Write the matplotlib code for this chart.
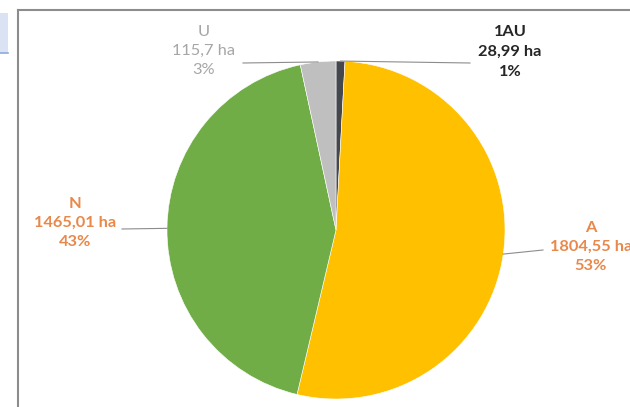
import numpy as np
import matplotlib.pyplot as plt
from matplotlib.patches import Rectangle

# zones du PLU (ha)
zones = ['1AU', 'A', 'N', 'U']
surfaces = [28.99, 1804.55, 1465.01, 115.7]
pourcents = ['1%', '53%', '43%', '3%']
couleurs = ['#45474f', '#ffc000', '#70ad47', '#bfbfbf']
col_texte = ['#262626', '#e8884a', '#e8884a', '#a6a6a6']
gras = ['bold', 'bold', 'bold', 'normal']

# position des etiquettes (pixels) et bout des lignes de rappel
pos_lab = [(510, 52), (591, 247), (75, 223), (204, 51)]
bout_ligne = [(470, 63), (543, 250), (122, 229), (243, 63)]

plt.rcParams['font.family'] = ['Lato', 'DejaVu Sans']

fig = plt.figure(figsize=(6.3, 4.07), dpi=100)
ax = fig.add_axes([0, 0, 1, 1])

cx, cy, r = 336, 230, 169
wedges, _ = ax.pie(surfaces, colors=couleurs, startangle=-90, counterclock=True,
                   center=(cx, cy), radius=r, frame=True,
                   wedgeprops=dict(edgecolor='white', linewidth=0.4))

ax.set_xlim(0, 630)
ax.set_ylim(407, 0)
ax.axis('off')

for i, w in enumerate(wedges):
    a = np.deg2rad((w.theta1 + w.theta2) / 2)
    px, py = cx + r * np.cos(a), cy + r * np.sin(a)
    ax.plot([px, bout_ligne[i][0]], [py, bout_ligne[i][1]], color='#8c8c8c', lw=0.8)
    txt = f"{zones[i]}\n{str(surfaces[i]).replace('.', ',')} ha\n{pourcents[i]}"
    ax.text(pos_lab[i][0], pos_lab[i][1], txt, ha='center', va='center',
            fontsize=11.8, color=col_texte[i], fontweight=gras[i], linespacing=1.5)

# cadre du graphique
ax.plot([18, 18], [10, 407], color='#8c8c8c', lw=1.5)
ax.plot([18, 630], [10, 10], color='#8c8c8c', lw=1.5)
ax.add_patch(Rectangle((0, 13), 8, 40, facecolor='#dae3f3', edgecolor='none'))
ax.plot([0, 8], [53, 53], color='#8faadc', lw=1.2)

fig.savefig('out.png', dpi=100)
